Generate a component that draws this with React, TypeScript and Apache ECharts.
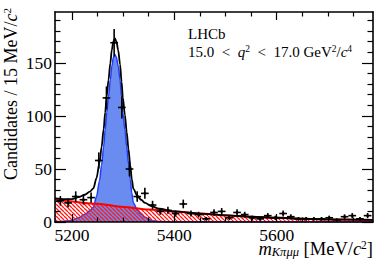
import React, { useEffect, useRef } from "react";
import * as echarts from "echarts";

// Bin centres (15 MeV bins) and candidate counts
const massBins = [
  5177.5, 5192.5, 5207.5, 5222.5, 5237.5, 5252.5, 5267.5, 5282.5, 5297.5, 5312.5,
  5327.5, 5342.5, 5357.5, 5372.5, 5387.5, 5402.5, 5417.5, 5432.5, 5447.5, 5462.5,
  5477.5, 5492.5, 5507.5, 5522.5, 5537.5, 5552.5, 5567.5, 5582.5, 5597.5, 5612.5,
  5627.5, 5642.5, 5657.5, 5672.5, 5687.5, 5702.5, 5717.5, 5732.5, 5747.5, 5762.5, 5777.5,
];
const candidates = [
  20, 18, 24, 21, 23, 58, 117, 169, 108, 50,
  24, 27, 16, 10, 11, 8, 17, 8, 7, 3,
  9, 10, 4, 9, 7, 4, 3, 6, 4, 8,
  5, 3, 3, 3, 3, 4, 2, 5, 6, 3, 6,
];

// Signal component (blue)
const signalMass = [
  5167, 5185, 5200, 5213, 5225, 5235, 5242, 5248, 5254, 5258, 5262, 5265, 5268, 5271.5,
  5275, 5278, 5281, 5284, 5287, 5290.5, 5294, 5297, 5299.5, 5303.5, 5307, 5310.5, 5314,
  5317, 5320, 5328, 5335, 5343, 5355, 5370, 5400, 5500, 5788,
];
const signalPdf = [
  0.3, 0.8, 1.5, 4, 7, 10.5, 14, 24, 39, 54, 71, 87, 103, 118,
  134, 147, 155, 158, 155, 147, 134, 118, 103, 87, 71, 55, 40,
  27, 18, 11, 7.5, 4.5, 1.5, 0.5, 0.1, 0, 0,
];

// Background component (red hatched)
const backgroundMass = [5167, 5250, 5300, 5350, 5400, 5450, 5500, 5550, 5600, 5650, 5700, 5788];
const backgroundPdf = [22, 17.2, 14.2, 11.8, 9.8, 7.9, 6.3, 5, 4, 3.1, 2.4, 2];

// Total fit (black)
const totalMass = [
  5167, 5185, 5200, 5213, 5225, 5235, 5242, 5248, 5254, 5258, 5262, 5265, 5268, 5271.5,
  5275, 5278, 5281, 5284, 5287, 5290.5, 5294, 5297, 5299.5, 5303.5, 5307, 5310.5, 5314,
  5317, 5320, 5328, 5335, 5343, 5355, 5370, 5400, 5450, 5500, 5550, 5600, 5650, 5700, 5788,
];
const totalPdf = [
  22.3, 21.6, 21.5, 23.4, 25.7, 28.6, 31.7, 41.3, 56, 70.7, 87.5, 103.3, 119, 134,
  149.7, 162.5, 170.3, 173, 170, 161.8, 148.6, 132.4, 117.2, 101, 84.9, 68.7, 53.5,
  40.4, 31.2, 24.5, 21, 18, 15, 12.5, 10, 7.9, 6.3, 5, 4, 3.1, 2.4, 2,
];

const xMajorTicks = [5200, 5400, 5600];
const xMinorTicks = [5250, 5300, 5350, 5450, 5500, 5550, 5650, 5700, 5750];
const yMajorTicks = [0, 50, 100, 150];
const yMinorTicks = [10, 20, 30, 40, 60, 70, 80, 90, 110, 120, 130, 140, 160, 170, 180, 190];

const X_MIN = 5167;
const X_MAX = 5788;
const Y_MIN = 0;
const Y_MAX = 198;
const BIN_HALF = 7.5;
const FONT = '"Liberation Serif", "Times New Roman", serif';

function makeHatch(): HTMLCanvasElement {
  const c = document.createElement("canvas");
  c.width = 4;
  c.height = 4;
  const ctx = c.getContext("2d")!;
  ctx.strokeStyle = "#ff1a1a";
  ctx.lineWidth = 1.3;
  ctx.beginPath();
  for (const o of [-4, 0, 4]) {
    ctx.moveTo(o, 0);
    ctx.lineTo(o + 4, 4);
  }
  ctx.stroke();
  return c;
}

const plainLabel = (v: number) => String(Math.round(v));

function xAx(pos: string, ticks: number[], len: number, showLine: boolean, labels: boolean) {
  return {
    type: "value",
    min: X_MIN,
    max: X_MAX,
    position: pos,
    z: 10,
    axisLine: { show: showLine, onZero: false, lineStyle: { color: "#000", width: 1.6 } },
    axisTick: { show: true, inside: true, length: len, customValues: ticks, lineStyle: { color: "#000", width: 1.2 } },
    axisLabel: labels
      ? { show: true, customValues: xMajorTicks, margin: 6, color: "#000", fontFamily: FONT, fontSize: 17.5, lineHeight: 14, formatter: plainLabel }
      : { show: false },
    splitLine: { show: false },
  };
}

function yAx(pos: string, ticks: number[], len: number, showLine: boolean, labels: boolean) {
  return {
    type: "value",
    min: Y_MIN,
    max: Y_MAX,
    position: pos,
    z: 10,
    axisLine: { show: showLine, onZero: false, lineStyle: { color: "#000", width: 1.6 } },
    axisTick: { show: true, inside: true, length: len, customValues: ticks, lineStyle: { color: "#000", width: 1.2 } },
    axisLabel: labels
      ? { show: true, customValues: yMajorTicks, margin: 3, color: "#000", fontFamily: FONT, fontSize: 17.5, formatter: plainLabel }
      : { show: false },
    splitLine: { show: false },
  };
}

export default function App() {
  const ref = useRef<HTMLDivElement>(null);

  useEffect(() => {
    if (!ref.current) return;
    const chart = echarts.init(ref.current, null, { renderer: "svg" });
    const hatch = makeHatch();

    const points = massBins.map((m, i) => [m, candidates[i], Math.sqrt(candidates[i])]);

    const option: any = {
      animation: false,
      backgroundColor: "#fff",
      grid: { left: 55, top: 12, width: 318, height: 210, outerBoundsMode: "none" },
      xAxis: [
        xAx("bottom", xMajorTicks, 8, true, true),
        xAx("bottom", xMinorTicks, 4.5, false, false),
        xAx("top", xMajorTicks, 8, true, false),
        xAx("top", xMinorTicks, 4.5, false, false),
      ],
      yAxis: [
        yAx("left", yMajorTicks, 11, true, true),
        yAx("left", yMinorTicks, 5.5, false, false),
        yAx("right", yMajorTicks, 11, true, false),
        yAx("right", yMinorTicks, 5.5, false, false),
      ],
      series: [
        {
          type: "line",
          name: "signal",
          xAxisIndex: 0,
          yAxisIndex: 0,
          z: 2,
          data: signalMass.map((m, i) => [m, signalPdf[i]]),
          showSymbol: false,
          smooth: 0.3,
          smoothMonotone: "x",
          lineStyle: { color: "#1f3fff", width: 1.5 },
          areaStyle: { color: "#6a8cf0", opacity: 1 },
        },
        {
          type: "line",
          name: "background",
          xAxisIndex: 0,
          yAxisIndex: 0,
          z: 3,
          data: backgroundMass.map((m, i) => [m, backgroundPdf[i]]),
          showSymbol: false,
          smooth: 0.3,
          smoothMonotone: "x",
          lineStyle: { color: "#ff0000", width: 2 },
          areaStyle: { color: { image: hatch, repeat: "repeat", imageWidth: 4, imageHeight: 4 }, opacity: 1 },
        },
        {
          type: "line",
          name: "total",
          xAxisIndex: 0,
          yAxisIndex: 0,
          z: 4,
          data: totalMass.map((m, i) => [m, totalPdf[i]]),
          showSymbol: false,
          smooth: 0.3,
          smoothMonotone: "x",
          lineStyle: { color: "#000", width: 1.8 },
        },
        {
          type: "custom",
          name: "data",
          xAxisIndex: 0,
          yAxisIndex: 0,
          z: 5,
          clip: true,
          data: points,
          renderItem: (_p: any, api: any) => {
            const x = api.value(0);
            const y = api.value(1);
            const e = api.value(2);
            const c = api.coord([x, y]);
            const l = api.coord([x - BIN_HALF, y]);
            const r = api.coord([x + BIN_HALF, y]);
            const t = api.coord([x, y + e]);
            const b = api.coord([x, Math.max(y - e, 0)]);
            const st = { stroke: "#000", lineWidth: 1.6 };
            return {
              type: "group",
              children: [
                { type: "line", shape: { x1: l[0], y1: l[1], x2: r[0], y2: r[1] }, style: st },
                { type: "line", shape: { x1: t[0], y1: t[1], x2: b[0], y2: b[1] }, style: st },
                { type: "circle", shape: { cx: c[0], cy: c[1], r: 1.4 }, style: { fill: "#000" } },
              ],
            };
          },
        },
      ],
      graphic: [
        {
          type: "text",
          x: 188,
          y: 26,
          z: 20,
          style: { text: "LHCb", fontFamily: FONT, fontSize: 15, fill: "#000", verticalAlign: "top" },
        },
        {
          type: "text",
          x: 188,
          y: 44,
          z: 20,
          style: {
            text: "15.0  <  {i|q}{sup|2}  <  17.0 GeV{sup|2}/{i|c}{sup|4}",
            fontFamily: FONT,
            fontSize: 15,
            lineHeight: 16,
            fill: "#000",
            verticalAlign: "top",
            rich: {
              i: { fontFamily: FONT, fontSize: 15, fontStyle: "italic", lineHeight: 16 },
              sup: { fontFamily: FONT, fontSize: 9.5, lineHeight: 9, verticalAlign: "top" },
            },
          },
        },
        {
          type: "text",
          x: 373,
          y: 239,
          z: 20,
          style: {
            text: "{i|m}{sub|Kπμμ} [MeV/{i|c}{sup|2}]",
            fontFamily: FONT,
            fontSize: 18.5,
            lineHeight: 19,
            fill: "#000",
            align: "right",
            verticalAlign: "top",
            rich: {
              i: { fontFamily: FONT, fontSize: 18.5, fontStyle: "italic", lineHeight: 19 },
              sub: { fontFamily: FONT, fontSize: 12.5, fontStyle: "italic", lineHeight: 12, verticalAlign: "bottom" },
              sup: { fontFamily: FONT, fontSize: 11.5, lineHeight: 11, verticalAlign: "top" },
            },
          },
        },
        {
          type: "text",
          x: 11,
          y: 8,
          z: 20,
          rotation: Math.PI / 2,
          style: {
            text: "Candidates / 15 MeV/{i|c}{sup|2}",
            fontFamily: FONT,
            fontSize: 18,
            lineHeight: 20,
            fill: "#000",
            align: "right",
            verticalAlign: "middle",
            rich: {
              i: { fontFamily: FONT, fontSize: 18, fontStyle: "italic", lineHeight: 20 },
              sup: { fontFamily: FONT, fontSize: 11, lineHeight: 11, verticalAlign: "top" },
            },
          },
        },
      ],
    };

    chart.setOption(option);
    return () => chart.dispose();
  }, []);

  return (
    <div
      ref={ref}
      style={{ position: "fixed", left: 0, top: 0, width: 392, height: 266, background: "#fff" }}
    />
  );
}
